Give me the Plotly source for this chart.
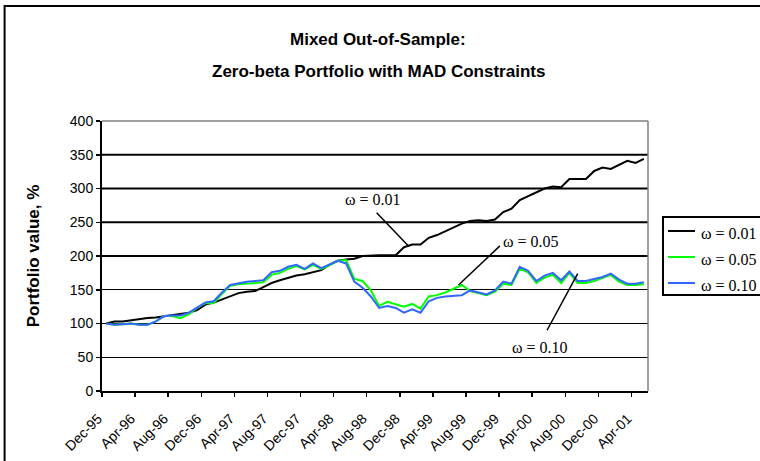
import plotly.graph_objects as go

# ---- data (monthly, Dec-95 .. May-01) ----
tick_labels = ["Dec-95", "Apr-96", "Aug-96", "Dec-96", "Apr-97", "Aug-97", "Dec-97",
               "Apr-98", "Aug-98", "Dec-98", "Apr-99", "Aug-99", "Dec-99", "Apr-00",
               "Aug-00", "Dec-00", "Apr-01"]

omega_001 = [100, 103, 103, 105, 107, 108, 109, 111, 112, 114, 116, 120, 128, 131, 136, 141,
             145, 147, 148, 154, 160, 164, 168, 171, 173, 176, 179, 187, 193, 195, 196, 200,
             201, 201, 201, 201, 213, 217, 217, 227, 231, 237, 243, 248, 252, 253, 252, 254,
             265, 270, 283, 289, 295, 300, 303, 302, 314, 314, 314, 326, 331, 329, 335, 341,
             338, 344]

omega_005 = [100, 98, 99, 100, 98, 98, 103, 111, 111, 108, 114, 123, 130, 130, 144, 156,
             158, 159, 160, 161, 172, 175, 181, 185, 180, 187, 181, 186, 193, 194, 166, 163,
             149, 126, 132, 129, 125, 129, 122, 140, 142, 146, 152, 157, 148, 145, 142, 147,
             159, 157, 181, 176, 160, 168, 172, 160, 175, 160, 160, 163, 167, 172, 162, 157,
             157, 158]

omega_010 = [100, 98, 99, 100, 98, 98, 103, 111, 112, 112, 116, 124, 131, 133, 146, 157,
             160, 162, 163, 164, 176, 178, 184, 187, 181, 189, 182, 187, 193, 189, 162, 153,
             140, 123, 126, 123, 116, 121, 116, 133, 138, 140, 141, 142, 149, 146, 143, 149,
             162, 159, 184, 178, 163, 171, 175, 164, 177, 163, 163, 166, 169, 174, 165, 159,
             159, 161]

series_names = ["ω = 0.01", "ω = 0.05", "ω = 0.10"]
series_colors = ["#000000", "#00FF00", "#3366FF"]

title_lines = ["Mixed Out-of-Sample:", "Zero-beta Portfolio with MAD Constraints"]
y_title = "Portfolio value, %"

# in-plot label positions (category index, value)
label_pos = [(32.3, 283), (51.3, 221), (52.4, 65)]
pointer_from = [(32.7, 264), (47.6, 215), (53.3, 90)]
pointer_to = [(36.6, 214), (42.6, 157), (57.0, 174)]

n = len(omega_001)
xs = list(range(n))

# ---- geometry (page pixels) ----
W, H = 760, 461
PL, PR, PT, PB = 101.5, 648, 121, 391          # plot area in page px
ML, MR, MT, MB = PL, W - PR, PT, H - PB
pw, ph = W - ML - MR, H - MT - MB


def px2paper(px, py):
    return (px - ML) / pw, (H - MB - py) / ph


fig = go.Figure()
for name, vals, col in zip(series_names, [omega_001, omega_005, omega_010], series_colors):
    fig.add_trace(go.Scatter(x=xs, y=vals, mode="lines", name=name, showlegend=False,
                             hoverinfo="skip", line=dict(color=col, width=2)))

shapes = []
annotations = []

# outer chart-area border (extends past right/bottom edge of the image)
bx0, by0 = px2paper(4, 6)
bx1, by1 = px2paper(800, 500)
shapes.append(dict(type="rect", xref="paper", yref="paper", x0=bx0, y0=by1, x1=bx1, y1=by0,
                   line=dict(color="black", width=2), layer="below"))

# heavier rendering of upper grid lines (as in the reference)
for gv in [200, 250, 300, 350]:
    shapes.append(dict(type="line", xref="paper", yref="y", x0=0, x1=1, y0=gv, y1=gv,
                       line=dict(color="black", width=2), layer="below"))

# gray top/right plot borders
shapes.append(dict(type="line", xref="paper", yref="paper", x0=0, x1=1, y0=1, y1=1,
                   line=dict(color="#808080", width=1.5)))
shapes.append(dict(type="line", xref="paper", yref="paper", x0=1, x1=1, y0=0, y1=1,
                   line=dict(color="#808080", width=1.5)))

# pointer lines
for (fx, fy), (tx, ty) in zip(pointer_from, pointer_to):
    shapes.append(dict(type="line", xref="x", yref="y", x0=fx, y0=fy, x1=tx, y1=ty,
                       line=dict(color="black", width=1.5)))

# in-plot labels
for t, (ax_, ay_) in zip(series_names, label_pos):
    annotations.append(dict(x=ax_, y=ay_, xref="x", yref="y", text=t, showarrow=False,
                            font=dict(family="Liberation Serif", size=16, color="black")))

# title (two lines)
for t, ty in zip(title_lines, [40, 71]):
    tx, tyy = px2paper(378, ty)
    annotations.append(dict(x=tx, y=tyy, xref="paper", yref="paper", text="<b>%s</b>" % t,
                            showarrow=False, xanchor="center", yanchor="middle",
                            font=dict(family="Liberation Sans", size=17, color="black")))

# legend box
lx0, ly0 = px2paper(663, 217)
lx1, ly1 = px2paper(790, 295)
shapes.append(dict(type="rect", xref="paper", yref="paper", x0=lx0, y0=ly1, x1=lx1, y1=ly0,
                   line=dict(color="black", width=2), fillcolor="white"))
for name, col, ly in zip(series_names, series_colors, [231, 257, 283]):
    sx0, sy = px2paper(668, ly)
    sx1, _ = px2paper(695, ly)
    shapes.append(dict(type="line", xref="paper", yref="paper", x0=sx0, x1=sx1, y0=sy, y1=sy,
                       line=dict(color=col, width=2)))
    tx, ty = px2paper(699, ly + 2)
    annotations.append(dict(x=tx, y=ty, xref="paper", yref="paper", text=name,
                            showarrow=False, xanchor="left", yanchor="middle",
                            font=dict(family="Liberation Serif", size=16, color="black")))

fig.update_layout(
    width=W, height=H,
    margin=dict(l=ML, r=MR, t=MT, b=MB, autoexpand=False),
    paper_bgcolor="white", plot_bgcolor="white",
    showlegend=False,
    hovermode=False,
    shapes=shapes,
    annotations=annotations,
    xaxis=dict(range=[-0.5, n - 0.5], tickmode="array",
               tickvals=[4 * k - 0.5 for k in range(len(tick_labels))],
               ticktext=tick_labels, tickangle=-45,
               ticks="outside", ticklen=4, tickwidth=1.5, tickcolor="black",
               ticklabelstandoff=8, ticklabelshift=-4,
               showline=True, linecolor="black", linewidth=2,
               showgrid=False, zeroline=False,
               tickfont=dict(family="Liberation Sans", size=14, color="black")),
    yaxis=dict(range=[0, 400], dtick=50, tick0=0,
               ticks="outside", ticklen=4, tickwidth=1.5, tickcolor="black",
               showline=True, linecolor="black", linewidth=2,
               showgrid=True, gridcolor="black", gridwidth=1, zeroline=False,
               tickfont=dict(family="Liberation Sans", size=14, color="black"),
               title=dict(text="<b>%s</b>" % y_title, standoff=26,
                          font=dict(family="Liberation Sans", size=17, color="black"))),
)

fig.write_html("out.html",
               config={"displayModeBar": False, "staticPlot": True},
               post_script="document.body.style.margin='0px';"
                           "document.documentElement.style.overflow='hidden';")
